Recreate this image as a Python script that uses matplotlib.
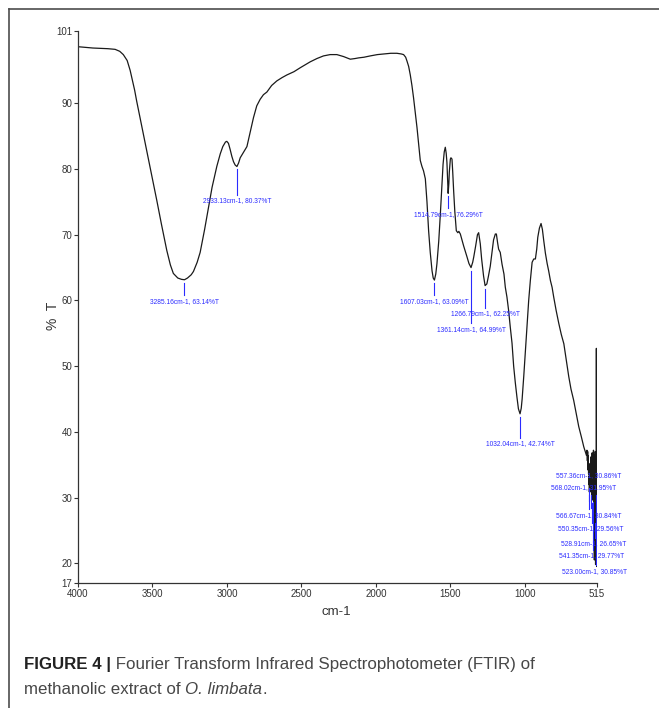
import matplotlib
matplotlib.use("Agg")
import matplotlib.pyplot as plt
from matplotlib.lines import Line2D

# FTIR spectrum (wavenumber cm-1, %T)
wavenumber = [
    4000, 3900, 3800, 3751, 3720, 3696, 3670, 3650, 3620, 3606, 3570, 3538,
    3505, 3471, 3440, 3404, 3380, 3360, 3330, 3305, 3285.16, 3265, 3240, 3225,
    3200, 3180, 3150, 3124, 3100, 3068, 3045, 3028, 3010, 3001, 2990, 2979,
    2967, 2956, 2945, 2933.13, 2922, 2911, 2890, 2866, 2845, 2822, 2800, 2777,
    2755, 2732, 2700, 2665, 2630, 2598, 2550, 2508, 2441, 2396, 2352, 2307,
    2262, 2217, 2172, 2140, 2116, 2080, 2038, 1990, 1948, 1900, 1859, 1830,
    1814, 1800, 1791, 1780, 1769, 1758, 1747, 1735, 1724, 1713, 1702, 1691,
    1680, 1668, 1657, 1646, 1635, 1623, 1615, 1607.03, 1598, 1590, 1578, 1567,
    1558, 1549, 1541, 1534, 1528, 1523, 1514.79, 1510, 1507, 1500, 1496, 1489,
    1484, 1478, 1470, 1460, 1450, 1443, 1433, 1420, 1411, 1400, 1388, 1375,
    1361.14, 1350, 1343, 1330, 1318, 1310, 1305, 1299, 1290, 1277, 1266.79, 1255,
    1245, 1232, 1220, 1210, 1198, 1191, 1183, 1176, 1165, 1153, 1140, 1131,
    1120, 1109, 1098, 1086, 1075, 1064, 1053, 1043, 1032.04, 1024, 1018, 1007,
    996, 985, 974, 963, 951, 940, 929, 920, 913, 902, 891, 882,
    873, 862, 850, 840, 828, 817, 806, 790, 772, 755, 738, 722,
    705, 690, 672, 655, 638, 620, 604, 593, 586, 583, 580, 578,
    576, 574, 572, 570, 568.02, 567.3, 566.67, 564, 561, 559, 557.36, 555,
    552.5, 550.35, 548, 546, 544, 541.35, 539, 537, 535, 533, 531, 528.91,
    527, 525, 523.00, 521.5, 520.5, 519.5, 518.5, 517.5, 516.5, 515.8, 515,
]
transmittance = [
    98.6, 98.4, 98.3, 98.2, 97.9, 97.4, 96.5, 95.0, 92.0, 90.3, 86.3, 82.7,
    79.0, 75.2, 71.6, 67.6, 65.4, 64.1, 63.4, 63.2, 63.14, 63.4, 63.9, 64.4,
    65.8, 67.3, 70.8, 74.1, 77.2, 80.4, 82.3, 83.4, 84.1, 84.2, 83.9, 83.0,
    81.9, 81.1, 80.6, 80.37, 80.9, 81.7, 82.5, 83.4, 85.5, 87.8, 89.6, 90.6,
    91.3, 91.7, 92.7, 93.4, 93.9, 94.3, 94.8, 95.4, 96.3, 96.8, 97.2, 97.4,
    97.4, 97.1, 96.7, 96.8, 96.9, 97.0, 97.2, 97.4, 97.5, 97.6, 97.6, 97.5,
    97.4, 97.0, 96.4, 95.6, 94.3, 92.7, 90.8, 88.5, 86.3, 83.8, 81.3, 80.4,
    79.7, 78.5, 75.0, 70.6, 67.3, 64.5, 63.4, 63.09, 64.0, 65.6, 69.0, 73.2,
    77.0, 80.7, 82.6, 83.3, 82.4, 81.0, 76.29, 77.8, 79.5, 81.5, 81.7, 81.5,
    79.5, 76.7, 73.5, 70.6, 70.3, 70.5, 70.1, 69.0, 68.3, 67.5, 66.6, 65.6,
    64.99, 65.8, 66.6, 68.3, 70.0, 70.3, 69.5, 68.6, 66.3, 63.7, 62.25, 62.5,
    63.6, 65.2, 67.4, 69.2, 70.1, 70.1, 68.8, 67.8, 67.3, 65.5, 64.0, 62.0,
    60.5, 58.5, 56.0, 53.5, 50.0, 47.5, 45.3, 43.5, 42.74, 43.6, 45.0, 48.5,
    52.4, 56.5, 60.0, 63.0, 65.8, 66.3, 66.3, 67.8, 69.6, 71.0, 71.7, 70.8,
    69.1, 67.2, 65.6, 64.5, 63.0, 62.0, 60.5, 58.5, 56.5, 54.8, 53.4, 51.0,
    48.4, 46.5, 44.8, 42.8, 40.8, 39.2, 37.7, 36.9, 36.4, 37.2, 35.6, 37.0,
    34.2, 36.4, 33.6, 35.2, 31.95, 33.2, 30.84, 34.6, 33.0, 35.0, 30.86, 36.2,
    33.0, 29.56, 36.8, 30.5, 36.0, 29.77, 37.2, 22.5, 36.5, 20.5, 35.8, 26.65,
    37.0, 19.8, 30.85, 36.5, 20.2, 52.7, 22.0, 36.8, 19.5, 34.0, 31.0,
]

# picked peaks
peak_wn = [3285.16, 2933.13, 1607.03, 1514.79, 1361.14, 1266.79, 1032.04,
           557.36, 568.02, 566.67, 550.35, 528.91, 541.35, 523.00]
peak_t = [63.14, 80.37, 63.09, 76.29, 64.99, 62.25, 42.74,
          30.86, 31.95, 30.84, 29.56, 26.65, 29.77, 30.85]

# where each peak label sits (wavenumber, %T of text centre)
label_pos = [(3285.16, 59.85), (2933.13, 75.15), (1607.03, 59.85), (1514.79, 73.1),
             (1361.14, 55.6), (1266.79, 58.0), (1032.04, 38.2),
             (573, 33.3), (606, 31.5), (573, 27.3), (559, 25.3),
             (539, 23.0), (553, 21.1), (529, 18.8)]

xticks = [4000, 3500, 3000, 2500, 2000, 1500, 1000, 515]
yticks = [17, 20, 30, 40, 50, 60, 70, 80, 90, 101]

narrow = ["Liberation Sans Narrow", "Liberation Sans", "DejaVu Sans"]
blue = "#2b2bff"
grey = "#333333"

fig = plt.figure(figsize=(6.59, 7.08), dpi=100)
ax = fig.add_axes([0.1184, 0.1766, 0.7876, 0.7797])

ax.plot(wavenumber, transmittance, color="#1a1a1a", lw=0.9)

for wn, t, (lx, ly) in zip(peak_wn, peak_t, label_pos):
    label = f"{wn:.2f}cm-1, {t:.2f}%T"
    if ly < t - 1.5:
        ax.plot([wn, wn], [t - 0.45, ly + 0.9], color=blue, lw=0.8)
    else:
        ax.plot([wn, wn], [t - 0.45, t - 2.5], color=blue, lw=0.8)
    ax.text(lx, ly, label, color=blue, fontsize=4.8, family=narrow,
            ha="center", va="center")

ax.set_xlim(4000, 515)
ax.set_ylim(17, 101)
ax.set_xticks(xticks)
ax.set_yticks(yticks)
ax.set_xticklabels([str(v) for v in xticks], family=narrow, fontsize=7, color=grey)
ax.set_yticklabels([str(v) for v in yticks], family=narrow, fontsize=7, color=grey)
ax.tick_params(direction="out", length=3, width=0.8, color=grey, pad=1)
for side in ["top", "right"]:
    ax.spines[side].set_visible(False)
for side in ["left", "bottom"]:
    ax.spines[side].set_color(grey)
    ax.spines[side].set_linewidth(0.9)

fig.text(336 / 659, 1 - 612 / 708, "cm-1", family=narrow, fontsize=9.5,
         color=grey, ha="center", va="center")
fig.text(53 / 659, 1 - 316 / 708, "%  T", family=narrow, fontsize=10,
         color=grey, ha="center", va="center", rotation=90)

# frame lines of the figure panel
fig.add_artist(Line2D([8.5 / 659, 1], [1 - 8.5 / 708] * 2, transform=fig.transFigure,
                      color="#4d4d4d", lw=1.2))
fig.add_artist(Line2D([8.5 / 659] * 2, [0, 1 - 8.5 / 708], transform=fig.transFigure,
                      color="#4d4d4d", lw=1.2))

# caption
cap = dict(fontsize=12.2, family=["Liberation Sans", "DejaVu Sans"], color="#474747")
t1 = fig.text(24 / 659, 1 - 672 / 708, "FIGURE 4 |", weight="bold", va="bottom",
              **{**cap, "color": "#222222"})
ax.annotate(" Fourier Transform Infrared Spectrophotometer (FTIR) of", xy=(1, 0),
            xycoords=t1, va="bottom", ha="left", annotation_clip=False, **cap)
t2 = fig.text(24 / 659, 1 - 697 / 708, "methanolic extract of ", va="bottom", **cap)
t3 = ax.annotate("O. limbata", xy=(1, 0), xycoords=t2, va="bottom", ha="left",
                 style="italic", annotation_clip=False, **cap)
ax.annotate(".", xy=(1, 0), xycoords=t3, va="bottom", ha="left",
            annotation_clip=False, **cap)

fig.savefig("out.png", dpi=100)
